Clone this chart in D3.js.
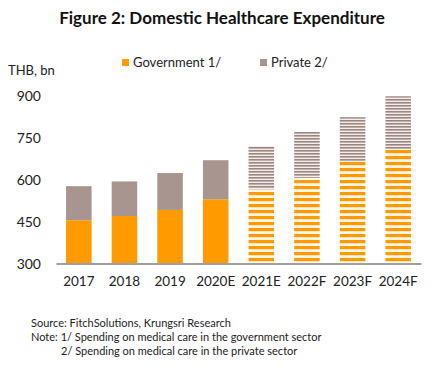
<!DOCTYPE html>
<html>
<head>
<meta charset="utf-8">
<script src="https://cdn.jsdelivr.net/npm/d3@7"></script>
<style>
 body { margin: 0; background: #fff; }
 text { font-family: Lato, "Open Sans", sans-serif; fill: #222; }
</style>
</head>
<body>
<script>
var width = 435, height = 367;

// data (THB bn)
var years = ['2017', '2018', '2019', '2020E', '2021E', '2022F', '2023F', '2024F'];
var government = [455, 470, 492, 530, 566, 607, 666, 709];
var privateSpend = [122, 124, 132, 140, 155, 164, 158, 190];
var forecast = [false, false, false, false, true, true, true, true];
var yTicks = [300, 450, 600, 750, 900];

var orange = '#ff9a00', mauve = '#a8958f';

var svg = d3.select('body').append('svg').attr('width', width).attr('height', height);

// stripe patterns for estimated/forecast years
var defs = svg.append('defs');
var pg = defs.append('pattern').attr('id', 'govStripe').attr('patternUnits', 'userSpaceOnUse')
 .attr('width', 6).attr('height', 6);
pg.append('rect').attr('width', 6).attr('height', 6).attr('fill', '#fff6e6');
pg.append('rect').attr('y', 0).attr('width', 6).attr('height', 3.2).attr('fill', orange);
var pp = defs.append('pattern').attr('id', 'privStripe').attr('patternUnits', 'userSpaceOnUse')
 .attr('width', 3).attr('height', 3);
pp.append('rect').attr('width', 3).attr('height', 3).attr('fill', '#f3eeec');
pp.append('rect').attr('y', 0).attr('width', 3).attr('height', 1.6).attr('fill', '#9a8581');

var x = d3.scaleBand().domain(years).range([56, 421]).paddingInner(0.44).paddingOuter(0.22);
var y = d3.scaleLinear().domain([300, 900]).range([263.5, 96]);

// title
svg.append('text').attr('x', 222).attr('y', 24).attr('text-anchor', 'middle')
 .style('font-size', '17px').style('font-weight', 'bold').style('fill', '#111')
 .text('Figure 2: Domestic Healthcare Expenditure');

svg.append('text').attr('x', 8).attr('y', 75).style('font-size', '13px').text('THB, bn');

// legend
var legend = [{label: 'Government 1/', color: orange, x: 122}, {label: 'Private 2/', color: mauve, x: 260}];
var lg = svg.selectAll('.lg').data(legend).join('g').attr('class', 'lg');
lg.append('rect').attr('x', function(d) { return d.x; }).attr('y', 59).attr('width', 7).attr('height', 7)
 .attr('fill', function(d) { return d.color; });
lg.append('text').attr('x', function(d) { return d.x + 11; }).attr('y', 67).style('font-size', '13px')
 .text(function(d) { return d.label; });

// y tick labels (no axis line)
svg.selectAll('.ytick').data(yTicks).join('text').attr('class', 'ytick')
 .attr('x', 41).attr('y', function(d) { return y(d) + 5; }).attr('text-anchor', 'end')
 .style('font-size', '14px').text(function(d) { return d; });

// bars
var rows = years.map(function(yr, i) {
 return {year: yr, gov: government[i], priv: privateSpend[i], f: forecast[i]};
});
var bars = svg.selectAll('.bar').data(rows).join('g').attr('class', 'bar');
bars.append('rect')
 .attr('x', function(d) { return x(d.year); }).attr('width', x.bandwidth())
 .attr('y', function(d) { return y(d.gov); })
 .attr('height', function(d) { return y(300) - y(d.gov); })
 .attr('fill', function(d) { return d.f ? 'url(#govStripe)' : orange; });
bars.append('rect')
 .attr('x', function(d) { return x(d.year); }).attr('width', x.bandwidth())
 .attr('y', function(d) { return y(d.gov + d.priv); })
 .attr('height', function(d) { return y(d.gov) - y(d.gov + d.priv); })
 .attr('fill', function(d) { return d.f ? 'url(#privStripe)' : mauve; });

// x axis
var xAxis = svg.append('g').attr('transform', 'translate(0,' + y(300) + ')')
 .call(d3.axisBottom(x).tickSize(0).tickPadding(13));
xAxis.select('.domain').attr('stroke', '#a0a0a0').attr('stroke-width', 2);
xAxis.selectAll('text').style('font-size', '13.5px').style('font-family', 'Lato, sans-serif').attr('fill', '#222');

// footnotes
var notes = [
 {t: 'Source: FitchSolutions, Krungsri Research', x: 31, y: 327},
 {t: 'Note: 1/ Spending on medical care in the government sector', x: 31, y: 341},
 {t: '2/ Spending on medical care in the private sector', x: 61, y: 355}
];
svg.selectAll('.note').data(notes).join('text').attr('class', 'note')
 .attr('x', function(d) { return d.x; }).attr('y', function(d) { return d.y; })
 .style('font-size', '11px').text(function(d) { return d.t; });
</script>
</body>
</html>
